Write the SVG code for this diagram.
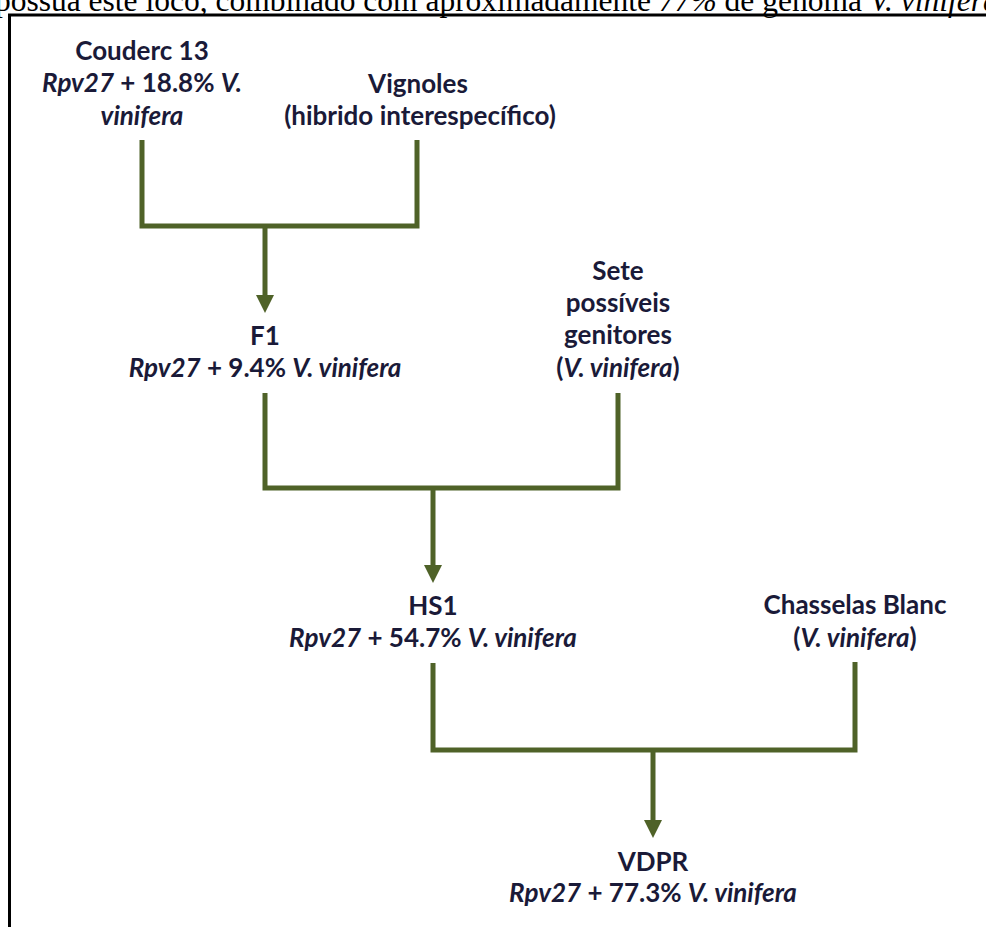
<svg xmlns="http://www.w3.org/2000/svg" width="986" height="927" viewBox="0 0 986 927">
<defs>
<style>
.t{font-family:Lato,"Liberation Sans",sans-serif;font-weight:bold;font-size:26px;fill:#1a1a38;text-anchor:middle}
.i{font-style:italic}
.top{font-family:"Liberation Serif",serif;font-size:31.5px;fill:#000}
.c{fill:none;stroke:#4f6228;stroke-width:5}
.ah{fill:#4f6228}
</style>
<marker id="arr" viewBox="0 0 10 10" refX="0" refY="5" markerWidth="3.6" markerHeight="4.2" orient="auto" markerUnits="strokeWidth">
<path d="M0,0 L10,5 L0,10 Z" class="ah"/>
</marker>
</defs>
<rect width="986" height="927" fill="#fff"/>
<text class="top" x="-5" y="11">possua este loco, combinado com aproximadamente <tspan font-style="italic">77%</tspan> de genoma <tspan font-style="italic">V. vinifera</tspan></text>
<path d="M8,15 H986 M9.5,15 V927" fill="none" stroke="#000" stroke-width="3"/>

<g id="couderc">
<text class="t" x="142" y="60">Couderc 13</text>
<text class="t" x="142" y="92"><tspan class="i">Rpv27</tspan> + 18.8% <tspan class="i">V.</tspan></text>
<text class="t" x="142" y="125"><tspan class="i">vinifera</tspan></text>
</g>
<g id="vignoles">
<text class="t" x="418" y="93">Vignoles</text>
<text class="t" x="420" y="125">(hibrido interespecífico)</text>
</g>
<g id="f1">
<text class="t" x="265" y="345">F1</text>
<text class="t" x="265" y="377"><tspan class="i">Rpv27</tspan> + 9.4% <tspan class="i">V. vinifera</tspan></text>
</g>
<g id="sete">
<text class="t" x="618" y="280">Sete</text>
<text class="t" x="618" y="312">possíveis</text>
<text class="t" x="618" y="344">genitores</text>
<text class="t" x="618" y="377">(<tspan class="i">V. vinifera</tspan>)</text>
</g>
<g id="hs1">
<text class="t" x="433" y="615">HS1</text>
<text class="t" x="433" y="647"><tspan class="i">Rpv27</tspan> + 54.7% <tspan class="i">V. vinifera</tspan></text>
</g>
<g id="chasselas">
<text class="t" x="855" y="614">Chasselas Blanc</text>
<text class="t" x="855" y="647">(<tspan class="i">V. vinifera</tspan>)</text>
</g>
<g id="vdpr">
<text class="t" x="653" y="871">VDPR</text>
<text class="t" x="653" y="902"><tspan class="i">Rpv27</tspan> + 77.3% <tspan class="i">V. vinifera</tspan></text>
</g>

<g id="connectors">
<path class="c" d="M142,140 V226 H417 V140"/>
<path class="c" d="M265,226 V295" marker-end="url(#arr)"/>
<path class="c" d="M265,393 V488 H618 V393"/>
<path class="c" d="M433,488 V565" marker-end="url(#arr)"/>
<path class="c" d="M433,663 V750 H855 V662"/>
<path class="c" d="M653,750 V820" marker-end="url(#arr)"/>
</g>
</svg>
